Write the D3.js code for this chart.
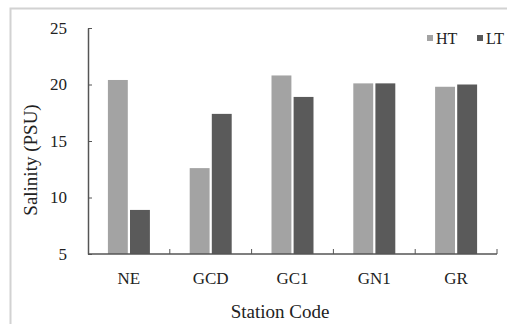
<!DOCTYPE html>
<html>
<head>
<meta charset="utf-8">
<script src="https://cdn.jsdelivr.net/npm/d3@7"></script>
<style>
  html, body { margin: 0; padding: 0; background: #fff; }
  svg { display: block; }
</style>
</head>
<body>
<svg id="chart" width="507" height="324"></svg>
<script>
// Salinity by station, high tide (HT) vs low tide (LT)
const stations = ["NE", "GCD", "GC1", "GN1", "GR"];
const seriesNames = ["HT", "LT"];
const htValues = [20.4, 12.6, 20.8, 20.1, 19.8];
const ltValues = [8.9, 17.4, 18.9, 20.1, 20.0];
const yTicks = [5, 10, 15, 20, 25];

const colors = { HT: "#a3a3a3", LT: "#5a5a5a" };
const SERIF = "Liberation Serif";

const svg = d3.select("#chart");
const W = 507, H = 324;

// outer frame
svg.append("rect")
  .attr("x", 10.5).attr("y", 8.5)
  .attr("width", W + 20).attr("height", H)
  .attr("fill", "none").attr("stroke", "#d2d2d2").attr("stroke-width", 2);

const x0 = d3.scaleBand().domain(stations).range([88, 497]).paddingInner(0).paddingOuter(0);
const x1 = d3.scaleBand().domain(seriesNames).range([0, 42]).paddingInner(0.1);
const y = d3.scaleLinear().domain([5, 25]).range([254, 28]);

const rows = stations.map((s, i) => ({ station: s, HT: htValues[i], LT: ltValues[i] }));

// bars
const groups = svg.append("g").selectAll("g").data(rows).join("g")
  .attr("transform", d => `translate(${x0(d.station) + (x0.bandwidth() - 42) / 2},0)`);
groups.selectAll("rect")
  .data(d => seriesNames.map(k => ({ key: k, value: d[k] })))
  .join("rect")
  .attr("x", d => x1(d.key))
  .attr("width", x1.bandwidth())
  .attr("y", d => y(d.value))
  .attr("height", d => y(5) - y(d.value))
  .attr("fill", d => colors[d.key]);

// y axis with inward ticks
const yAxis = svg.append("g").attr("transform", "translate(88,0)")
  .call(d3.axisRight(y).tickValues(yTicks).tickSize(4).tickSizeOuter(0).tickFormat(d3.format("d")));
yAxis.attr("font-family", SERIF);
yAxis.select(".domain").attr("stroke", "#555").attr("stroke-width", 1.5);
yAxis.selectAll(".tick line").attr("stroke", "#555");
yAxis.selectAll(".tick text")
  .attr("x", -21).attr("text-anchor", "end")
  .attr("font-family", SERIF)
  .attr("font-size", 17).attr("fill", "#222");

// x axis: tick marks at category boundaries, pointing up
const xAxisG = svg.append("g").attr("transform", "translate(0,254)");
xAxisG.append("line").attr("x1", 88).attr("x2", 497).attr("y1", 0).attr("y2", 0)
  .attr("stroke", "#555").attr("stroke-width", 1.5);
const boundaries = stations.map(s => x0(s)).concat([x0.range()[1]]);
xAxisG.selectAll("line.b").data(boundaries.slice(1)).join("line")
  .attr("class", "b")
  .attr("x1", d => d).attr("x2", d => d).attr("y1", 0).attr("y2", -5)
  .attr("stroke", "#555");
xAxisG.selectAll("text").data(stations).join("text")
  .attr("x", d => x0(d) + x0.bandwidth() / 2)
  .attr("y", 30)
  .attr("text-anchor", "middle")
  .attr("font-family", SERIF)
  .attr("font-size", 17)
  .attr("fill", "#222")
  .text(d => d);

// axis titles
svg.append("text")
  .attr("transform", "translate(37,160) rotate(-90)")
  .attr("text-anchor", "middle")
  .attr("font-family", SERIF)
  .attr("font-size", 19)
  .attr("fill", "#222")
  .text("Salinity (PSU)");
svg.append("text")
  .attr("x", 280).attr("y", 318)
  .attr("text-anchor", "middle")
  .attr("font-family", SERIF)
  .attr("font-size", 19)
  .attr("fill", "#222")
  .text("Station Code");

// legend
const legend = svg.append("g").selectAll("g").data(seriesNames).join("g")
  .attr("transform", (d, i) => `translate(${427 + i * 50},42)`);
legend.append("rect").attr("x", 0).attr("y", -7).attr("width", 6).attr("height", 6)
  .attr("fill", d => colors[d]);
legend.append("text").attr("x", 9).attr("y", 2)
  .attr("font-family", SERIF)
  .attr("font-size", 16)
  .attr("fill", "#222")
  .text(d => d);
</script>
</body>
</html>
